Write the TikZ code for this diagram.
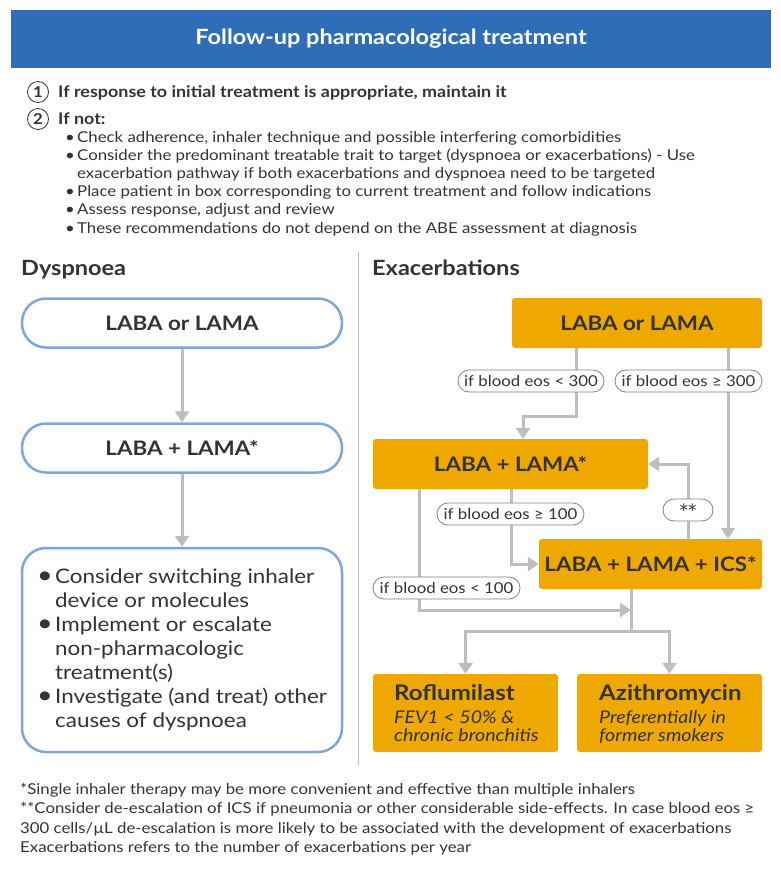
\documentclass[tikz,border=0pt]{standalone}
\usepackage{fontspec}
\setmainfont{Lato}[FakeStretch=1.12]
\newfontfamily\dvsans{DejaVu Sans}
\usetikzlibrary{arrows.meta}
\definecolor{banner}{RGB}{46,110,185}
\definecolor{gold}{RGB}{238,168,0}
\definecolor{boxblue}{RGB}{127,166,220}
\definecolor{lgray}{RGB}{190,190,192}
\definecolor{pgray}{RGB}{130,130,130}
\definecolor{dark}{RGB}{51,51,51}
\newcommand\fsz[2]{\fontsize{#1pt}{#2pt}\selectfont}
\begin{document}
\begin{tikzpicture}[x=1pt,y=-1pt,
  txt/.style={anchor=base west, inner sep=0pt, text=dark},
  body/.style={txt, font=\fsz{15}{18}},
  bodyb/.style={txt, font=\bfseries\fsz{16}{18}},
  head/.style={txt, font=\bfseries\fsz{21}{24}},
  num/.style={circle, draw=dark, line width=0.8pt, minimum size=21pt, inner sep=0pt, font=\bfseries\fsz{15}{18}, text=dark},
  dbox/.style={draw=boxblue, line width=2.5pt, rounded corners=24pt, minimum width=320pt, minimum height=49pt, fill=white, text=dark, inner sep=0pt, font=\bfseries\fsz{20}{24}},
  ebox/.style={fill=gold, rounded corners=3pt, text=dark, inner sep=0pt, minimum height=50pt, font=\bfseries\fsz{20}{24}},
  dtxt/.style={txt, font=\fsz{20}{24}},
  etit/.style={txt, font=\bfseries\fsz{21.5}{24}},
  eit/.style={txt, font=\itshape\fsz{17.5}{18}},
  conn/.style={draw=lgray, line width=3pt},
  arr/.style={conn, -{Triangle[width=14pt,length=11pt]}},
  pill/.style={draw=pgray, line width=0.8pt, fill=white, rounded corners=11pt, minimum height=22pt, inner xsep=4pt, inner ysep=0pt, text=dark, font=\fsz{15}{18}},
  foot/.style={txt, font=\fsz{15}{18}}
]
\useasboundingbox (0,0) rectangle (781,871);

% banner
\node[fill=banner, minimum width=760pt, minimum height=58pt, inner sep=0pt, text=white, font=\bfseries\fsz{21}{24}] (title) at (391,39) {Follow-up pharmacological treatment};

% numbered items
\node[num] (n1) at (38,92) {1};
\node[bodyb] (l1) at (58,97.5) {If response to initial treatment is appropriate, maintain it};
\node[num] (n2) at (38,119) {2};
\node[bodyb] (l2) at (58,124.5) {If not:};
\node[body] (b1) at (65,142) {\makebox[12pt][l]{•}Check adherence, inhaler technique and possible interfering comorbidities};
\node[body] (b2) at (65,160.2) {\makebox[12pt][l]{•}Consider the predominant treatable trait to target (dyspnoea or exacerbations) - Use};
\node[body] (b2b) at (77,178.4) {exacerbation pathway if both exacerbations and dyspnoea need to be targeted};
\node[body] (b3) at (65,196.6) {\makebox[12pt][l]{•}Place patient in box corresponding to current treatment and follow indications};
\node[body] (b4) at (65,214.8) {\makebox[12pt][l]{•}Assess response, adjust and review};
\node[body] (b5) at (65,233) {\makebox[12pt][l]{•}These recommendations do not depend on the ABE assessment at diagnosis};

% divider
\coordinate (dvt) at (358,252);
\coordinate (dvb) at (358,765);
\draw[draw=lgray, line width=1pt] (dvt) -- (dvb);

% headers
\node[head] (hd) at (21,275) {Dyspnoea};
\node[head] (he) at (372,275) {Exacerbations};

% Dyspnoea column
\node[dbox] (d1) at (182,323) {LABA or LAMA};
\node[dbox] (d2) at (182,448) {LABA + LAMA*};
\node[dbox, minimum height=204pt] (d3) at (182,650) {};
\draw[arr] (d1) -- (d2);
\draw[arr] (d2) -- (d3);
\node[dtxt] (t1) at (37,583) {\makebox[18pt][l]{\fsz{24}{24}•}Consider switching inhaler};
\node[dtxt] (t2) at (55,607) {device or molecules};
\node[dtxt] (t3) at (37,631) {\makebox[18pt][l]{\fsz{24}{24}•}Implement or escalate};
\node[dtxt] (t4) at (55,655) {non-pharmacologic};
\node[dtxt] (t5) at (55,679) {treatment(s)};
\node[dtxt] (t6) at (37,703) {\makebox[18pt][l]{\fsz{24}{24}•}Investigate (and treat) other};
\node[dtxt] (t7) at (55,727) {causes of dyspnoea};

% Exacerbations column
\node[ebox, minimum width=250pt] (eA) at (637,323) {LABA or LAMA};
\node[ebox, minimum width=275pt] (eB) at (510.5,464) {LABA + LAMA*};
\node[ebox, minimum width=223pt] (eC) at (650.5,564) {LABA + LAMA + ICS*};
\node[ebox, minimum width=185pt, minimum height=78pt] (eD) at (465.5,713) {};
\node[ebox, minimum width=185pt, minimum height=78pt] (eE) at (669.5,713) {};
\node[etit] (rT) at (394,700) {Roflumilast};
\node[eit] (r1) at (394,723) {FEV1 < 50\% \&};
\node[eit] (r2) at (394,741) {chronic bronchitis};
\node[etit] (aT) at (599,700) {Azithromycin};
\node[eit] (a1) at (599,723) {Preferentially in};
\node[eit] (a2) at (599,741) {former smokers};

% bend points
\coordinate (k1) at (576,416);
\coordinate (k2) at (523,416);
\coordinate (k3) at (728,400);
\coordinate (k4) at (511,564);
\coordinate (k5) at (688,464);
\coordinate (k6) at (419,610);
\coordinate (jn) at (631,610);
\coordinate (k7) at (631,631);

\draw[arr] (eA.south -| k1) -- (k1) -- (k2) -- (eB.north -| k2);
\draw[arr] (eA.south -| k3) -- (eC.north -| k3);
\draw[arr] (eB.south -| k4) -- (k4) -- (eC.west |- k4);
\draw[arr] (eC.north -| k5) -- (k5) -- (eB.east |- k5);
\draw[arr] (eB.south -| k6) -- (k6) -- (jn);
\draw[conn] (eC.south -| k7) -- (k7);
\draw[arr] (k7) -| (eD.north);
\draw[arr] (k7) -| (eE.north);

% pills
\node[pill, minimum width=146pt] (p1) at (531,381) {if blood eos < 300};
\node[pill, minimum width=147pt] (p2) at (688.5,381) {if blood eos ≥ 300};
\node[pill, minimum width=147pt] (p3) at (510.5,514) {if blood eos ≥ 100};
\node[pill, minimum width=50pt] (p4) at (688,510) {\raisebox{-2.5pt}{\dvsans\fsz{17}{18}**}};
\node[pill, minimum width=147pt] (p5) at (446.5,588) {if blood eos < 100};

% footnotes
\node[foot] (f1) at (20,794) {*Single inhaler therapy may be more convenient and effective than multiple inhalers};
\node[foot] (f2) at (20,813.6) {**Consider de-escalation of ICS if pneumonia or other considerable side-effects. In case blood eos ≥};
\node[foot] (f3) at (20,833.2) {300 cells/µL de-escalation is more likely to be associated with the development of exacerbations};
\node[foot] (f4) at (20,852.8) {Exacerbations refers to the number of exacerbations per year};
\end{tikzpicture}
\end{document}
